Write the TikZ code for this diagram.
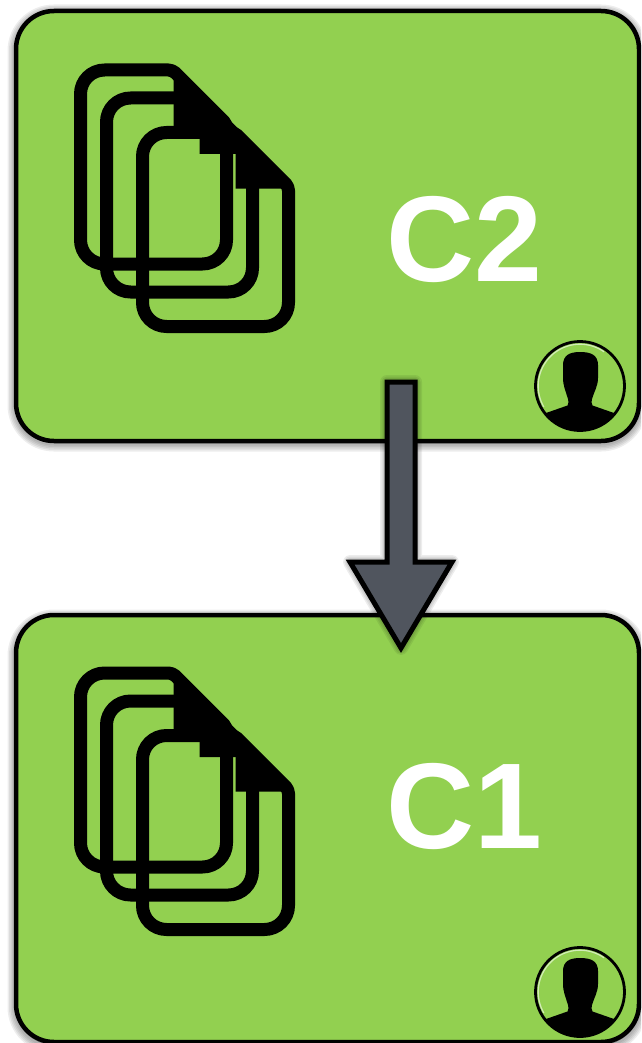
\documentclass[tikz,border=0pt]{standalone}
\usepackage{fontspec}
\setmainfont{Liberation Sans}
\usetikzlibrary{calc}
\definecolor{boxgreen}{HTML}{92D050}
\definecolor{arrowgrey}{HTML}{50555E}
\tikzset{
  x=1pt, y=-1pt,
  cardbox/.style={rectangle, rounded corners=38pt, draw=black, line width=4.5pt, fill=boxgreen, inner sep=0pt, minimum width=623pt},
  cardshade/.style={rectangle, rounded corners=38pt, draw=black, fill=black, inner sep=0pt, minimum width=623pt, draw opacity=0.07, fill opacity=0.07},
  cardlabel/.style={anchor=base west, inner sep=0pt, text=white, font=\fontsize{122}{122}\selectfont\bfseries},
  pagestroke/.style={draw=black, line width=13pt, line join=round},
  pagesheet/.pic={
    \fill[black] (93,0) -- (146,54) -- (146,56) -- (93,56) -- cycle;
    \draw[pagestroke, rounded corners=24pt] (0,97) -- (0,0) [rounded corners=4pt] -- (92,0) -- (146,54) [rounded corners=24pt] -- (146,194) -- (0,194) -- cycle;
  },
  pagestack/.pic={
    \pic at (0,0) {pagesheet};
    \pic at (26,28) {pagesheet};
    \pic at (62,62.5) {pagesheet};
  },
  personbadge/.pic={
    \begin{scope}
      \clip (0,0) circle[radius=44pt];
      \fill[black] (-34,27) -- (-12.5,19.5) .. controls (-11,18) and (-11.5,15) .. (-12,13)
        .. controls (-14,6) and (-17,0) .. (-17,-8) -- (-17,-21)
        .. controls (-17,-31) and (-10,-34) .. (0,-34)
        .. controls (11,-34) and (18,-31) .. (18,-21) -- (18,-8)
        .. controls (18,0) and (14,6) .. (12,13)
        .. controls (11.5,15) and (11,18) .. (12.5,19.5) -- (34,27) -- (34,60) -- (-34,60) -- cycle;
    \end{scope}
    \draw[color=white, opacity=0.6, line width=1.2pt] plot[domain=-210:-55, samples=40] ({41.8*cos(\x)},{41.8*sin(\x)});
    \draw[black, line width=2.8pt] (0,0) circle[radius=44.5pt];
  },
  blockarrow/.style={draw=black, line width=5pt, fill=arrowgrey, line join=miter, miter limit=10},
  arrowshade/.style={draw=black, fill=black, draw opacity=0.07, fill opacity=0.07, line join=round},
}
\begin{document}
\begin{tikzpicture}
\useasboundingbox (0,0) rectangle (641,1043);
\clip (0,0) rectangle (641,1043);
% soft shadows of the cards
\foreach \w in {5,8,11,14,17}{
  \node[cardshade, minimum height=430pt, line width=\w pt] at (327.5,228) {};
  \node[cardshade, minimum height=427pt, line width=\w pt] at (327.5,831.5) {};
}
% upper card
\node[cardbox, minimum height=430pt] (c2) at (327.5,226) {};
\pic (c2pages) at (80.5,70) {pagestack};
\node[cardlabel] (c2label) at (386,281) {C2};
\pic (c2person) at (580,386) {personbadge};
% lower card
\node[cardbox, minimum height=427pt] (c1) at (327.5,828.5) {};
\pic (c1pages) at (80.5,673) {pagestack};
\node[cardlabel] (c1label) at (386,848) {C1};
\pic (c1person) at (580,992) {personbadge};
% arrow from card C2 to card C1
\coordinate (arrowtail) at (401,382);
\coordinate (arrowtip) at (401,648);
\foreach \w in {5,8,11,14}{
  \draw[arrowshade, line width=\w pt, shift={(3,2)}]
    ($(arrowtail)+(-14,0)$) -- ($(arrowtail)+(14,0)$) -- ($(arrowtail)+(14,180)$) -- ($(arrowtail)+(51,180)$)
    -- (arrowtip) -- ($(arrowtail)+(-51,180)$) -- ($(arrowtail)+(-14,180)$) -- cycle;
}
\draw[blockarrow]
    ($(arrowtail)+(-14,0)$) -- ($(arrowtail)+(14,0)$) -- ($(arrowtail)+(14,180)$) -- ($(arrowtail)+(51,180)$)
    -- (arrowtip) -- ($(arrowtail)+(-51,180)$) -- ($(arrowtail)+(-14,180)$) -- cycle;
\end{tikzpicture}
\end{document}
